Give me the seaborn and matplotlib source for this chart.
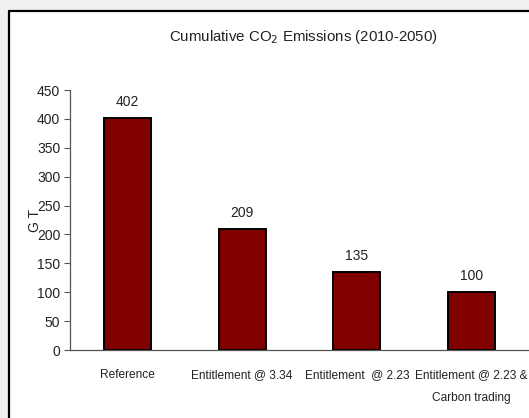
import matplotlib
matplotlib.use("Agg")
import matplotlib.pyplot as plt
from matplotlib.patches import Rectangle
from matplotlib.lines import Line2D
import seaborn as sns
import pandas as pd

scenarios = ["Reference", "Entitlement @ 3.34", "Entitlement  @ 2.23",
             "Entitlement @ 2.23 &\nCarbon trading"]
emissions = [402, 209, 135, 100]
y_ticks = [0, 50, 100, 150, 200, 250, 300, 350, 400, 450]

sns.set_style("white")
plt.rcParams["font.family"] = ["Liberation Sans Narrow", "Liberation Sans", "DejaVu Sans"]

df = pd.DataFrame({"scenario": scenarios, "gt": emissions})

fig = plt.figure(figsize=(5.29, 4.18), dpi=100)
fig.patch.set_facecolor("#f0f0f0")

# white chart area with a black frame on its left and top edges
x0, y1 = 9 / 529, 1 - 10.5 / 418
fig.patches.append(Rectangle((x0, 0), 1 - x0, y1, transform=fig.transFigure,
                             facecolor="white", edgecolor="none", zorder=-10))
fig.lines.append(Line2D([x0, x0], [0, y1], transform=fig.transFigure, color="black",
                        lw=1.6, zorder=-5))
fig.lines.append(Line2D([x0, 1], [y1, y1], transform=fig.transFigure, color="black",
                        lw=1.6, zorder=-5))

ax = fig.add_axes([70 / 529, 1 - 350 / 418, 1 - 70 / 529, 260 / 418])
ax.set_facecolor("none")

sns.barplot(data=df, x="scenario", y="gt", ax=ax, color="#800000",
            width=0.41, edgecolor="black", linewidth=1.4, saturation=1)

ax.set_xlim(-0.5, 3.5)
ax.set_ylim(0, 450)
ax.set_yticks(y_ticks)
ax.tick_params(axis="y", which="both", left=True, length=4, width=0.8,
               color="#555555", labelsize=10, pad=3)
ax.tick_params(axis="x", bottom=False, labelsize=8.6, pad=10)
for lab in ax.get_yticklabels():
    lab.set_color("#222222")
for lab in ax.get_xticklabels():
    lab.set_color("#222222")
    lab.set_linespacing(2.2)

for s in ["top", "right"]:
    ax.spines[s].set_visible(False)
for s in ["left", "bottom"]:
    ax.spines[s].set_color("#555555")
    ax.spines[s].set_linewidth(0.9)

for i, v in enumerate(emissions):
    ax.annotate(str(v), (i, v), xytext=(0, 6.5), textcoords="offset points",
                ha="center", va="bottom", fontsize=10, color="#222222")

ax.set_xlabel("")
ax.set_ylabel("G T", fontsize=10, color="#222222")
ax.yaxis.set_label_coords(-0.062, 0.5)

fig.text(303 / 529, 1 - 37 / 418, "Cumulative CO$_2$ Emissions (2010-2050)",
         ha="center", va="center", fontsize=10.8, color="#222222")

fig.savefig("out.png", dpi=100, facecolor=fig.get_facecolor())
